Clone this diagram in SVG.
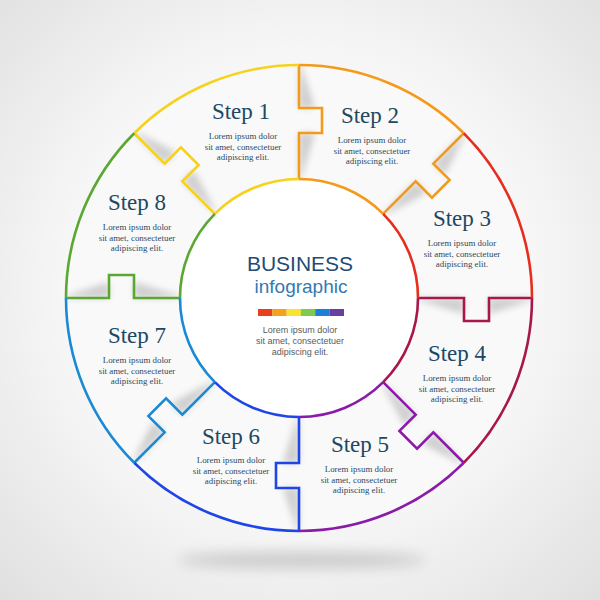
<svg xmlns="http://www.w3.org/2000/svg" width="600" height="600" viewBox="0 0 600 600">
<defs>
<radialGradient id="bg" cx="50%" cy="48%" r="72%">
<stop offset="0" stop-color="#ffffff"/>
<stop offset="0.55" stop-color="#f6f6f6"/>
<stop offset="1" stop-color="#e0e0e0"/>
</radialGradient>
<filter id="blur" x="-50%" y="-50%" width="200%" height="200%"><feGaussianBlur stdDeviation="3.5"/></filter>
<filter id="blur2" x="-50%" y="-200%" width="200%" height="500%"><feGaussianBlur stdDeviation="7"/></filter>
<clipPath id="ring"><circle cx="299" cy="298" r="233"/></clipPath>
<style>
.o{fill:none;stroke-width:2.6;stroke-linejoin:miter;stroke-linecap:butt}
.st{font-family:"Liberation Serif","Times New Roman",serif;font-size:23px;fill:#1d4862;text-anchor:middle}
.lo{font-family:"Liberation Serif","Times New Roman",serif;font-size:8.9px;fill:#2b4a5f;text-anchor:middle}
.sh{fill:#000;opacity:0.17;filter:url(#blur)}
.c1{stroke:#f6d21c}.c2{stroke:#f39a1b}.c3{stroke:#e62e1e}.c4{stroke:#a8174c}
.c5{stroke:#8a1aa8}.c6{stroke:#1e46e6}.c7{stroke:#1a8ad4}.c8{stroke:#5aa832}
</style>
</defs>
<rect width="600" height="600" fill="url(#bg)"/>
<ellipse cx="302" cy="560" rx="125" ry="8" fill="#000" opacity="0.16" filter="url(#blur2)"/>
<circle cx="299" cy="298" r="233" fill="#f9f9f9"/>
<circle cx="299" cy="298" r="119" fill="#ffffff"/>
<g id="shadows" clip-path="url(#ring)">
<polygon class="sh" points="214.85,213.85 182.33,181.33 193.64,170.02 216.26,212.44"/>
<polygon class="sh" points="134.24,133.24 164.65,163.65 175.96,152.34 135.65,131.83"/>
<polygon class="sh" points="299,179 299,133 315,133 301,179"/>
<polygon class="sh" points="299,65 299,108 315,108 301,65"/>
<polygon class="sh" points="383.15,213.85 415.67,181.33 426.98,192.64 384.56,215.26"/>
<polygon class="sh" points="463.76,133.24 433.35,163.65 444.66,174.96 465.17,134.65"/>
<polygon class="sh" points="418,298 464,298 464,314 418,300"/>
<polygon class="sh" points="532,298 489,298 489,314 532,300"/>
<polygon class="sh" points="383.15,382.15 415.67,414.67 404.36,425.98 381.74,383.56"/>
<polygon class="sh" points="463.76,462.76 433.35,432.35 422.04,443.66 462.35,464.17"/>
<polygon class="sh" points="299,417 299,463 283,463 297,417"/>
<polygon class="sh" points="299,531 299,488 283,488 297,531"/>
<polygon class="sh" points="214.85,382.15 182.33,414.67 171.02,403.36 213.44,380.74"/>
<polygon class="sh" points="134.24,462.76 164.65,432.35 153.34,421.04 132.83,461.35"/>
<polygon class="sh" points="180,298 134,298 134,282 180,296"/>
<polygon class="sh" points="66,298 109,298 109,282 66,296"/>
</g>
<g id="connectors">
<path class="o c1" d="M214.85,213.85 L182.33,181.33 L198.59,165.07 L180.91,147.39 L164.65,163.65 L134.24,133.24"/>
<path class="o c2" d="M299,179 L299,133 L322,133 L322,108 L299,108 L299,65"/>
<path class="o c2" d="M383.15,213.85 L415.67,181.33 L431.93,197.59 L449.61,179.91 L433.35,163.65 L463.76,133.24"/>
<path class="o c4" d="M418,298 L464,298 L464,321 L489,321 L489,298 L532,298"/>
<path class="o c5" d="M383.15,382.15 L415.67,414.67 L399.41,430.93 L417.09,448.61 L433.35,432.35 L463.76,462.76"/>
<path class="o c6" d="M299,417 L299,463 L276,463 L276,488 L299,488 L299,531"/>
<path class="o c7" d="M214.85,382.15 L182.33,414.67 L166.07,398.41 L148.39,416.09 L164.65,432.35 L134.24,462.76"/>
<path class="o c8" d="M180,298 L134,298 L134,275 L109,275 L109,298 L66,298"/>
</g>
<g id="step1">
<path class="o c1" d="M134.24,133.24 A233,233 0 0 1 299,65"/>
<path class="o c1" d="M214.85,213.85 A119,119 0 0 1 299,179"/>
<text class="st" x="241" y="119">Step 1</text>
<text class="lo" x="243" y="139">Lorem ipsum dolor</text>
<text class="lo" x="243" y="149.5">sit amet, consectetuer</text>
<text class="lo" x="243" y="160">adipiscing elit.</text>
</g>
<g id="step2">
<path class="o c2" d="M299,65 A233,233 0 0 1 463.76,133.24"/>
<path class="o c2" d="M299,179 A119,119 0 0 1 383.15,213.85"/>
<text class="st" x="370" y="123">Step 2</text>
<text class="lo" x="372" y="143">Lorem ipsum dolor</text>
<text class="lo" x="372" y="153.5">sit amet, consectetuer</text>
<text class="lo" x="372" y="164">adipiscing elit.</text>
</g>
<g id="step3">
<path class="o c3" d="M463.76,133.24 A233,233 0 0 1 532,298"/>
<path class="o c3" d="M383.15,213.85 A119,119 0 0 1 418,298"/>
<text class="st" x="462" y="226">Step 3</text>
<text class="lo" x="462" y="246">Lorem ipsum dolor</text>
<text class="lo" x="462" y="256.5">sit amet, consectetuer</text>
<text class="lo" x="462" y="267">adipiscing elit.</text>
</g>
<g id="step4">
<path class="o c4" d="M532,298 A233,233 0 0 1 463.76,462.76"/>
<path class="o c4" d="M418,298 A119,119 0 0 1 383.15,382.15"/>
<text class="st" x="457" y="361">Step 4</text>
<text class="lo" x="457" y="381">Lorem ipsum dolor</text>
<text class="lo" x="457" y="391.5">sit amet, consectetuer</text>
<text class="lo" x="457" y="402">adipiscing elit.</text>
</g>
<g id="step5">
<path class="o c5" d="M463.76,462.76 A233,233 0 0 1 299,531"/>
<path class="o c5" d="M383.15,382.15 A119,119 0 0 1 299,417"/>
<text class="st" x="360" y="452">Step 5</text>
<text class="lo" x="359" y="472">Lorem ipsum dolor</text>
<text class="lo" x="359" y="482.5">sit amet, consectetuer</text>
<text class="lo" x="359" y="493">adipiscing elit.</text>
</g>
<g id="step6">
<path class="o c6" d="M299,531 A233,233 0 0 1 134.24,462.76"/>
<path class="o c6" d="M299,417 A119,119 0 0 1 214.85,382.15"/>
<text class="st" x="231" y="444">Step 6</text>
<text class="lo" x="231" y="463">Lorem ipsum dolor</text>
<text class="lo" x="231" y="473.5">sit amet, consectetuer</text>
<text class="lo" x="231" y="484">adipiscing elit.</text>
</g>
<g id="step7">
<path class="o c7" d="M134.24,462.76 A233,233 0 0 1 66,298"/>
<path class="o c7" d="M214.85,382.15 A119,119 0 0 1 180,298"/>
<text class="st" x="137" y="343">Step 7</text>
<text class="lo" x="137" y="363">Lorem ipsum dolor</text>
<text class="lo" x="137" y="373.5">sit amet, consectetuer</text>
<text class="lo" x="137" y="384">adipiscing elit.</text>
</g>
<g id="step8">
<path class="o c8" d="M66,298 A233,233 0 0 1 134.24,133.24"/>
<path class="o c8" d="M180,298 A119,119 0 0 1 214.85,213.85"/>
<text class="st" x="137" y="210">Step 8</text>
<text class="lo" x="137" y="230">Lorem ipsum dolor</text>
<text class="lo" x="137" y="240.5">sit amet, consectetuer</text>
<text class="lo" x="137" y="251">adipiscing elit.</text>
</g>
<g id="center">
<text x="300" y="271" font-family="'Liberation Sans',Arial,sans-serif" font-size="21" fill="#1f4b74" text-anchor="middle">BUSINESS</text>
<text x="301" y="293" font-family="'Liberation Sans',Arial,sans-serif" font-size="19" fill="#3479b2" text-anchor="middle">infographic</text>
<rect x="258" y="309" width="14.4" height="7" fill="#ea3f1d"/>
<rect x="272.3" y="309" width="14.4" height="7" fill="#f5a11b"/>
<rect x="286.6" y="309" width="14.4" height="7" fill="#f9e231"/>
<rect x="300.9" y="309" width="14.4" height="7" fill="#7dcc4f"/>
<rect x="315.2" y="309" width="14.4" height="7" fill="#1c7fd9"/>
<rect x="329.5" y="309" width="14.5" height="7" fill="#6b3fa2"/>
<text x="300" y="333" font-family="'Liberation Sans',Arial,sans-serif" font-size="9" fill="#5a5a5a" text-anchor="middle">Lorem ipsum dolor</text>
<text x="300" y="344" font-family="'Liberation Sans',Arial,sans-serif" font-size="9" fill="#5a5a5a" text-anchor="middle">sit amet, consectetuer</text>
<text x="300" y="355" font-family="'Liberation Sans',Arial,sans-serif" font-size="9" fill="#5a5a5a" text-anchor="middle">adipiscing elit.</text>
</g>
</svg>
